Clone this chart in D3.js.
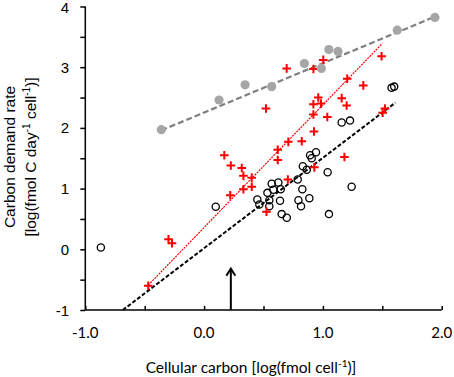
<!DOCTYPE html>
<html><head><meta charset="utf-8">
<script src="https://cdn.jsdelivr.net/npm/d3@7"></script>
<style>body{margin:0;background:#fff}svg{display:block}</style>
</head><body>
<svg id="c" width="454" height="377"></svg>
<script>
// Data (log10 values)
const grayPoints = [[-0.36,1.97],[0.126,2.46],[0.345,2.71],[0.569,2.68],[0.844,3.06],[0.987,2.98],[1.05,3.29],[1.127,3.26],[1.626,3.61],[1.943,3.82]];
const redPoints = [[-0.47,-0.60],[-0.30,0.165],[-0.27,0.10],[0.17,1.55],[0.225,1.38],[0.317,1.34],[0.331,1.21],[0.401,1.18],[0.331,0.99],[0.401,1.03],[0.22,0.89],[0.525,0.62],[0.62,1.64],[0.62,1.47],[0.705,1.15],[0.709,1.77],[0.822,1.78],[0.925,1.94],[0.928,1.35],[0.92,2.22],[1.037,2.18],[0.92,2.39],[0.984,2.40],[0.961,2.50],[1.158,2.49],[1.20,2.37],[1.205,2.81],[1.34,2.70],[1.494,3.18],[0.695,2.98],[0.92,2.97],[1.003,3.12],[0.521,2.32],[1.522,2.32],[1.503,2.25],[1.181,1.52]];
const blackPoints = [[-0.869,0.03],[0.098,0.70],[0.448,0.82],[0.465,0.74],[0.533,0.93],[0.569,1.08],[0.625,1.10],[0.583,0.98],[0.645,0.99],[0.549,0.81],[0.549,0.71],[0.639,0.80],[0.653,0.58],[0.696,0.52],[0.788,1.15],[0.827,0.99],[0.794,0.81],[0.886,0.84],[0.816,0.71],[0.831,1.37],[0.864,1.31],[0.892,1.55],[0.942,1.60],[0.906,1.50],[1.04,1.27],[1.051,0.58],[1.158,2.09],[1.228,2.12],[1.242,1.03],[1.578,2.66],[1.60,2.68]];
const grayLine = [[-0.36,1.96],[1.94,3.83]];
const redLine = [[-0.47,-0.59],[1.50,3.39]];
const blackLine = [[-0.684,-1],[1.61,2.415]];
const arrowX = 0.225, arrowTop = -0.32;
const xTicks = [-1,-0.5,0,0.5,1,1.5,2];
const xTickLabels = ["-1.0","0.0","1.0","2.0"];
const yTicks = [-1,-0.5,0,0.5,1,1.5,2,2.5,3,3.5,4];
const yTickLabels = ["-1","0","1","2","3","4"];

const svg = d3.select("#c");
const x = d3.scaleLinear().domain([-1,2]).range([85.3,441.7]);
const y = d3.scaleLinear().domain([-1,4]).range([310,6.5]);

// axes
const xAxis = d3.axisBottom(x).tickValues(xTicks).tickSize(-4).tickFormat("");
const gx = svg.append("g").attr("transform","translate(0,310)").call(xAxis);
gx.select(".domain").attr("stroke","#000").attr("stroke-width",1.5).attr("d",`M${x(-1)},0H${x(2)}`);
gx.selectAll(".tick line").attr("stroke","#000").attr("stroke-width",1.5);
const yAxis = d3.axisLeft(y).tickValues(yTicks).tickSize(5).tickFormat("");
const gy = svg.append("g").attr("transform","translate(85.3,0)").call(yAxis);
gy.select(".domain").attr("stroke","#000").attr("stroke-width",1.5).attr("d",`M0,${y(-1)}V${y(4)}`);
gy.selectAll(".tick line").attr("stroke","#000").attr("stroke-width",1.5);

// tick labels
svg.append("g").selectAll("text").data(xTickLabels).join("text")
  .attr("x",d=>x(+d)).attr("y",338).attr("text-anchor","middle")
  .attr("font-family","Lato, 'Open Sans', sans-serif").attr("font-size",15).attr("fill","#000").text(d=>d);
svg.append("g").selectAll("text").data(yTickLabels).join("text")
  .attr("x",69).attr("y",d=>y(+d)+5.5).attr("dy",d=>d==="4"?0.8:0).attr("text-anchor","end")
  .attr("font-family","'Liberation Sans', Arial, sans-serif").attr("font-size",15).attr("fill","#000").text(d=>d);

// axis titles
const xt = svg.append("text").attr("x",251).attr("y",373).attr("text-anchor","middle")
  .attr("font-family","Lato, 'Open Sans', sans-serif").attr("font-size",15.5).attr("fill","#000");
xt.append("tspan").text("Cellular carbon [log(fmol cell");
xt.append("tspan").attr("font-size",10).attr("dy",-6).text("-1");
xt.append("tspan").attr("dy",6).text(")]");

const yt = svg.append("text").attr("transform","translate(15,157) rotate(-90)").attr("text-anchor","middle")
  .attr("font-family","'Liberation Sans', Arial, sans-serif").attr("font-size",15.5).attr("fill","#000");
yt.text("Carbon demand rate");
const yt2 = svg.append("text").attr("transform","translate(36,157) rotate(-90)").attr("text-anchor","middle")
  .attr("font-family","'Liberation Sans', Arial, sans-serif").attr("font-size",15.5).attr("fill","#000");
yt2.append("tspan").text("[log(fmol C day");
yt2.append("tspan").attr("font-size",10).attr("dy",-6).text("-1");
yt2.append("tspan").attr("dy",6).text(" cell");
yt2.append("tspan").attr("font-size",10).attr("dy",-6).text("-1");
yt2.append("tspan").attr("dy",6).text(")]");

const line = d3.line().x(d=>x(d[0])).y(d=>y(d[1]));
// regression lines
svg.append("path").attr("d",line(grayLine)).attr("stroke","#7f7f7f").attr("stroke-width",2.2).attr("stroke-dasharray","6,3").attr("fill","none");
svg.append("path").attr("d",line(redLine)).attr("stroke","#ff0000").attr("stroke-width",1.2).attr("stroke-dasharray","2,1").attr("fill","none");
svg.append("path").attr("d",line(blackLine)).attr("stroke","#000").attr("stroke-width",2).attr("stroke-dasharray","4,2").attr("fill","none");

// points
svg.append("g").selectAll("circle").data(blackPoints).join("circle")
  .attr("cx",d=>x(d[0])).attr("cy",d=>y(d[1])).attr("r",3.6)
  .attr("fill","none").attr("stroke","#000").attr("stroke-width",1.3);
svg.append("g").selectAll("path").data(redPoints).join("path")
  .attr("d",d=>{const cx=x(d[0]),cy=y(d[1]),s=4.3;return `M${cx-s},${cy}H${cx+s}M${cx},${cy-s}V${cy+s}`;})
  .attr("stroke","#ff0000").attr("stroke-width",2).attr("fill","none");
svg.append("g").selectAll("circle").data(grayPoints).join("circle")
  .attr("cx",d=>x(d[0])).attr("cy",d=>y(d[1])).attr("r",4.6)
  .attr("fill","#a6a6a6");

// arrow
const ax = x(arrowX);
svg.append("line").attr("x1",ax).attr("x2",ax).attr("y1",y(-1)).attr("y2",y(arrowTop)+1)
  .attr("stroke","#000").attr("stroke-width",2);
svg.append("path").attr("d",`M${ax-4.5},${y(arrowTop)+7}L${ax},${y(arrowTop)}L${ax+4.5},${y(arrowTop)+7}`)
  .attr("stroke","#000").attr("stroke-width",2).attr("fill","none");
</script>
</body></html>
